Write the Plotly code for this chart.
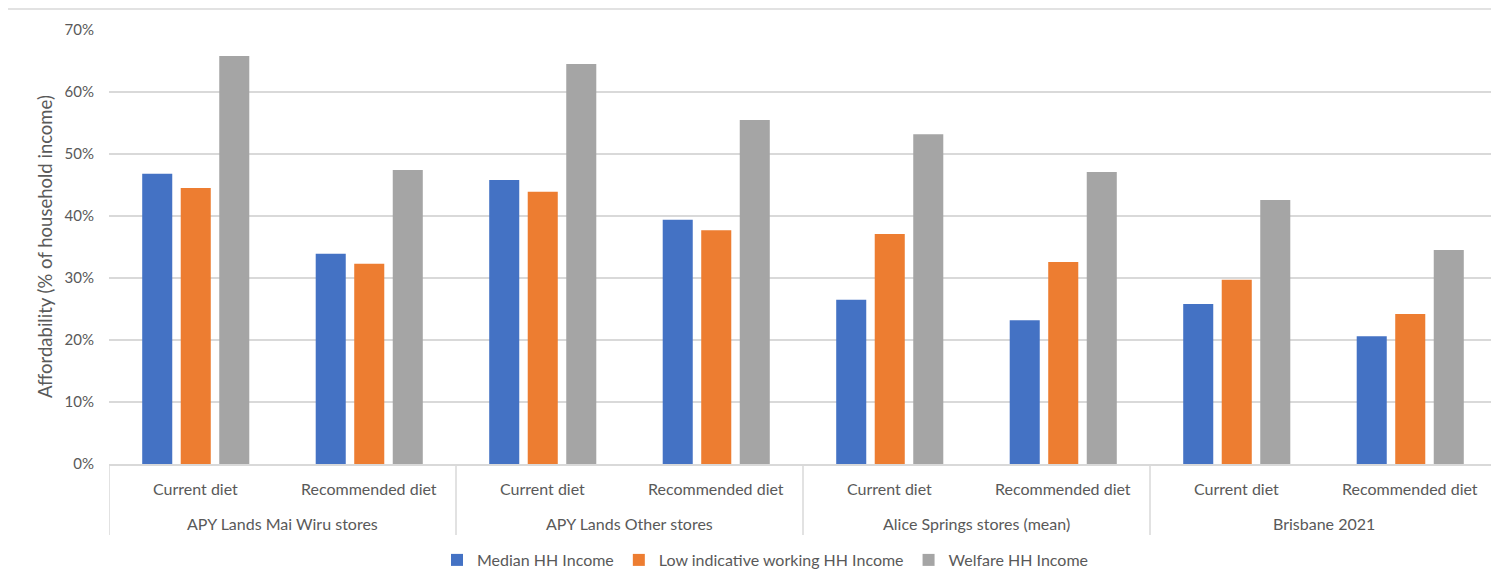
import plotly.graph_objects as go

groups = ["APY Lands Mai Wiru stores", "APY Lands Other stores", "Alice Springs stores (mean)", "Brisbane 2021"]
diets = ["Current diet", "Recommended diet"]
series_names = ["Median HH Income", "Low indicative working HH Income", "Welfare HH Income"]
colors = ["#4472C4", "#ED7D31", "#A5A5A5"]

median_hh = [46.8, 33.9, 45.8, 39.4, 26.5, 23.2, 25.8, 20.6]
low_working_hh = [44.5, 32.3, 43.9, 37.7, 37.1, 32.6, 29.7, 24.2]
welfare_hh = [65.8, 47.4, 64.5, 55.5, 53.2, 47.1, 42.6, 34.5]

cats = [f"{g}|{d}" for g in groups for d in diets]

fig = go.Figure()
for name, vals, col in zip(series_names, [median_hh, low_working_hh, welfare_hh], colors):
    fig.add_trace(go.Bar(
        x=cats, y=[v / 100 for v in vals], name=name,
        marker=dict(color=col, line=dict(width=0)),
    ))

font_fam = "Lato, 'Open Sans', sans-serif"
txt_col = "#595959"
line_col = "#D9D9D9"

# plot area geometry (figure px): height 434
ph = 434.0
annotations = []
for c in cats:
    annotations.append(dict(x=c, xref="x", y=-24 / ph, yref="paper", text=c.split("|")[1],
                            showarrow=False, yanchor="middle", xanchor="center",
                            font=dict(size=16, color=txt_col, family=font_fam)))
n_d = len(diets)
for gi, g in enumerate(groups):
    annotations.append(dict(x=gi * n_d + (n_d - 1) / 2, xref="x", y=-59 / ph, yref="paper", text=g,
                            showarrow=False, yanchor="middle", xanchor="center",
                            font=dict(size=16, color=txt_col, family=font_fam)))
annotations.append(dict(x=-64 / 1388, xref="paper", y=0.5, yref="paper",
                        text="Affordability (% of household income)", textangle=-90,
                        showarrow=False, xanchor="center", yanchor="middle",
                        font=dict(size=18.5, color=txt_col, family=font_fam)))

shapes = []
for k in range(len(groups) + 1):
    shapes.append(dict(type="line", xref="x", yref="paper", x0=k * n_d - 0.5, x1=k * n_d - 0.5,
                       y0=0, y1=-71 / ph, line=dict(color=line_col, width=1.5)))
shapes.append(dict(type="line", xref="paper", yref="paper", x0=-102 / 1388, x1=1.01, y0=1 + 21 / ph, y1=1 + 21 / ph,
                   line=dict(color=line_col, width=1.5)))
shapes.append(dict(type="line", xref="paper", yref="paper", x0=-102 / 1388, x1=-102 / 1388, y0=1 + 21 / ph, y1=-0.33,
                   line=dict(color=line_col, width=1.5)))

fig.update_layout(
    width=1491, height=576,
    margin=dict(l=101, r=2, t=22, b=120, autoexpand=False),
    paper_bgcolor="white", plot_bgcolor="white",
    barmode="group", bargap=0.334, bargroupgap=0.22,
    font=dict(family=font_fam, size=15, color=txt_col),
    showlegend=True,
    legend=dict(orientation="h", x=(765 - 109) / 1388, xanchor="center", y=-96 / ph, yanchor="middle",
                font=dict(size=16, color=txt_col), traceorder="normal", itemwidth=30),
    xaxis=dict(type="category", showline=True, linecolor=line_col, linewidth=1.5,
               showticklabels=False, ticks="", showgrid=False, range=[-0.5, len(cats) - 0.5]),
    yaxis=dict(range=[0, 0.70], dtick=0.10, tickformat=".0%", showgrid=True,
               gridcolor=line_col, gridwidth=1.5, zeroline=False, ticks="",
               ticklabelstandoff=14,
               tickfont=dict(size=15, color=txt_col)),
    annotations=annotations,
    shapes=shapes,
)
fig.write_html("out.html")
